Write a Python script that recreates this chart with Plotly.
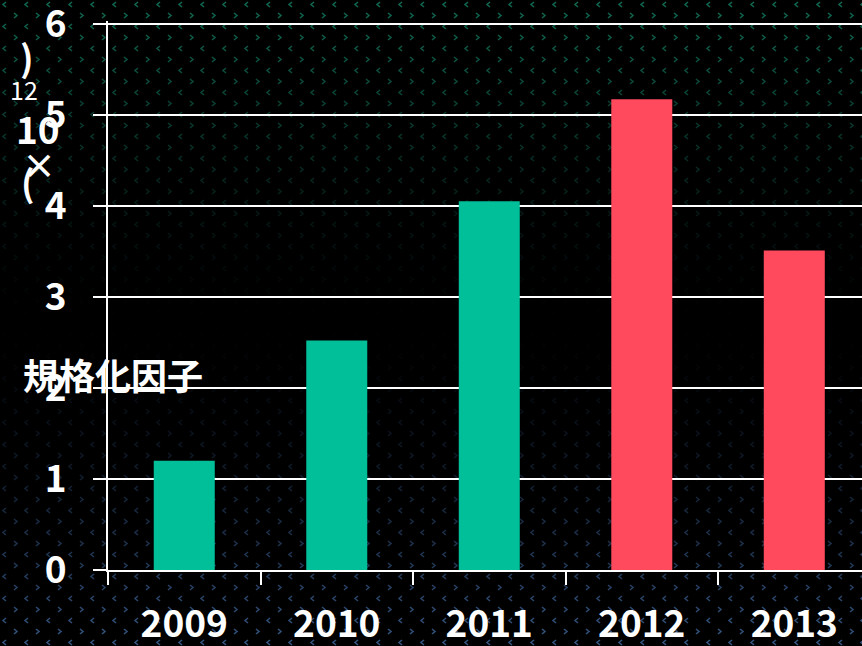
import base64
import plotly.graph_objects as go

# Data
years = ["2009", "2010", "2011", "2012", "2013"]
values = [1.2, 2.52, 4.05, 5.17, 3.51]
bar_colors = ["#00BF99", "#00BF99", "#00BF99", "#FF4A5E", "#FF4A5E"]
y_ticks = [0, 1, 2, 3, 4, 5, 6]

W, H = 862, 646
PL, PR, PT, PB = 108, 862, 21, 570  # plot area in pixels
FONT = "Noto Sans CJK JP"
Y_MAX = 6.03  # a little headroom so the top gridline is drawn


def px(x, y):
    """Pixel position -> paper coordinates."""
    return (x - PL) / (PR - PL), (PB - y) / (PB - PT)


# Background texture: small chevrons, teal near the top and blue near the bottom
svg = f"""<svg xmlns='http://www.w3.org/2000/svg' width='{W}' height='{H}' viewBox='0 0 {W} {H}'>
<defs>
<pattern id='p' width='22' height='22' patternUnits='userSpaceOnUse'>
<polyline points='6,2 3,4.5 6,7' fill='none' stroke='white' stroke-width='1.6'/>
<polyline points='14,13 17,15.5 14,18' fill='none' stroke='white' stroke-width='1.6'/>
</pattern>
<linearGradient id='g' x1='0' y1='0' x2='0' y2='1'>
<stop offset='0' stop-color='rgb(15,110,85)' stop-opacity='0.95'/>
<stop offset='0.3' stop-color='rgb(15,90,75)' stop-opacity='0.35'/>
<stop offset='0.5' stop-color='rgb(20,40,60)' stop-opacity='0.0'/>
<stop offset='0.75' stop-color='rgb(40,70,110)' stop-opacity='0.45'/>
<stop offset='1' stop-color='rgb(55,90,135)' stop-opacity='0.95'/>
</linearGradient>
<mask id='m'><rect width='{W}' height='{H}' fill='url(#p)'/></mask>
</defs>
<rect width='{W}' height='{H}' fill='black'/>
<rect width='{W}' height='{H}' fill='url(#g)' mask='url(#m)'/>
</svg>"""
bg_src = "data:image/svg+xml;base64," + base64.b64encode(svg.encode()).decode()

fig = go.Figure(
    go.Bar(
        x=years,
        y=values,
        marker=dict(color=bar_colors, line=dict(width=0)),
        width=0.4,
    )
)

x0, y0 = px(0, 0)
fig.add_layout_image(
    dict(
        source=bg_src,
        xref="paper",
        yref="paper",
        x=x0,
        y=y0,
        sizex=W / (PR - PL),
        sizey=H / (PB - PT),
        xanchor="left",
        yanchor="top",
        sizing="stretch",
        layer="below",
    )
)

# Axis title pieces: (text, x px, y px, size, weight)
title_parts = [
    ("規格化因子", 113, 374, 36, "bold"),
    (")", 27, 56, 36, "bold"),
    ("12", 24, 89, 25, "normal"),
    ("10", 38, 128, 37, "bold"),
    ("×", 39, 165, 34, "bold"),
    ("(", 28, 181, 36, "bold"),
]
for txt, ax_, ay_, fs, wt in title_parts:
    xp, yp = px(ax_, ay_)
    fig.add_annotation(
        text=txt,
        x=xp,
        y=yp,
        xref="paper",
        yref="paper",
        xanchor="center",
        yanchor="middle",
        showarrow=False,
        font=dict(family=FONT, size=fs, color="white", weight=wt),
    )

fig.update_layout(
    width=W,
    height=H,
    margin=dict(l=PL, r=W - PR, t=PT, b=H - PB, pad=0, autoexpand=False),
    paper_bgcolor="black",
    plot_bgcolor="rgba(0,0,0,0)",
    showlegend=False,
    font=dict(family=FONT, color="white"),
)

fig.update_xaxes(
    type="category",
    range=[-0.5, 4.444],
    automargin=False,
    showline=True,
    linecolor="white",
    linewidth=2,
    ticks="outside",
    tickson="boundaries",
    ticklen=13,
    tickwidth=2,
    tickcolor="white",
    showgrid=False,
    tickfont=dict(family=FONT, size=37, color="white", weight="bold"),
    ticklabelstandoff=21,
)

fig.update_yaxes(
    range=[0, Y_MAX],
    tickvals=y_ticks,
    automargin=False,
    showline=True,
    linecolor="white",
    linewidth=2,
    ticks="outside",
    ticklen=13,
    tickwidth=2,
    tickcolor="white",
    showgrid=True,
    gridcolor="white",
    gridwidth=2,
    zeroline=False,
    tickfont=dict(family=FONT, size=37, color="white", weight="bold"),
    ticklabelstandoff=19,
    ticklabeloverflow="allow",
)

fig.write_html("out.html")
